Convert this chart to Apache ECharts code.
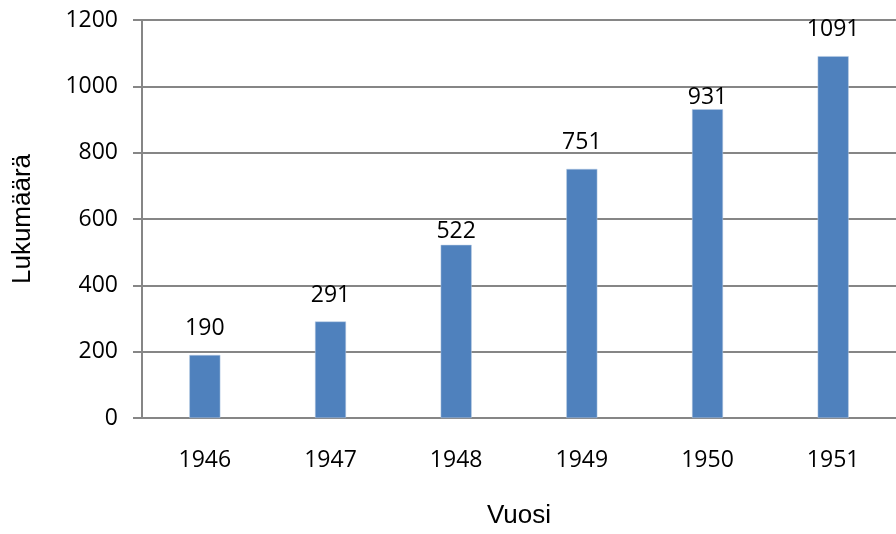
<!DOCTYPE html>
<html>
<head>
<meta charset="utf-8">
<script src="https://cdn.jsdelivr.net/npm/echarts@6/dist/echarts.min.js"></script>
<style>
    html, body { margin: 0; padding: 0; background: #fff; }
    #chart { width: 896px; height: 534px; }
</style>
</head>
<body>
<div id="chart"></div>
<script>
var years = ['1946', '1947', '1948', '1949', '1950', '1951']
var counts = [190, 291, 522, 751, 931, 1091]
var yTicks = [0, 200, 400, 600, 800, 1000, 1200]

// labels for 1948 and 1950 sit closer to their bars in the original
var labelGap = [15, 15, 2, 15, 0, 15]

var chartDom = document.getElementById('chart')
var myChart = echarts.init(chartDom)

var tickFont = '"Open Sans", sans-serif'
var nameFont = '"Liberation Sans", Arial, sans-serif'

let options = {
    animation: false,
    grid: {
        left: 142,
        right: -7,
        top: 20,
        bottom: 115
    },
    xAxis: {
        type: 'category',
        data: years,
        name: 'Vuosi',
        nameLocation: 'middle',
        nameGap: 85,
        nameTextStyle: {
            fontFamily: nameFont,
            fontSize: 26,
            color: '#000'
        },
        axisLine: {
            lineStyle: { color: '#868686', width: 2 }
        },
        axisTick: { show: false },
        axisLabel: {
            margin: 31,
            fontFamily: tickFont,
            fontSize: 23,
            color: '#000'
        }
    },
    yAxis: {
        type: 'value',
        min: yTicks[0],
        max: yTicks[yTicks.length - 1],
        interval: 200,
        name: 'Lukumäärä',
        nameLocation: 'middle',
        nameGap: 106,
        nameTextStyle: {
            fontFamily: nameFont,
            fontSize: 26,
            color: '#000'
        },
        axisLine: {
            show: true,
            lineStyle: { color: '#868686', width: 2 }
        },
        axisTick: {
            show: true,
            length: 9,
            lineStyle: { color: '#868686', width: 2 }
        },
        splitLine: {
            lineStyle: { color: '#868686', width: 2 }
        },
        axisLabel: {
            margin: 24,
            fontFamily: tickFont,
            fontSize: 23,
            color: '#000',
            formatter: function (v) { return String(v) }
        }
    },
    series: [
        {
            type: 'bar',
            barWidth: 31,
            data: counts.map(function (v, i) {
                return {
                    value: v,
                    label: { distance: labelGap[i] }
                }
            }),
            itemStyle: {
                color: '#4F81BD',
                borderColor: '#B9CDE5',
                borderWidth: 0.5
            },
            label: {
                show: true,
                position: 'top',
                fontFamily: tickFont,
                fontSize: 23,
                color: '#000'
            }
        }
    ]
}
myChart.setOption(options)
</script>
</body>
</html>
